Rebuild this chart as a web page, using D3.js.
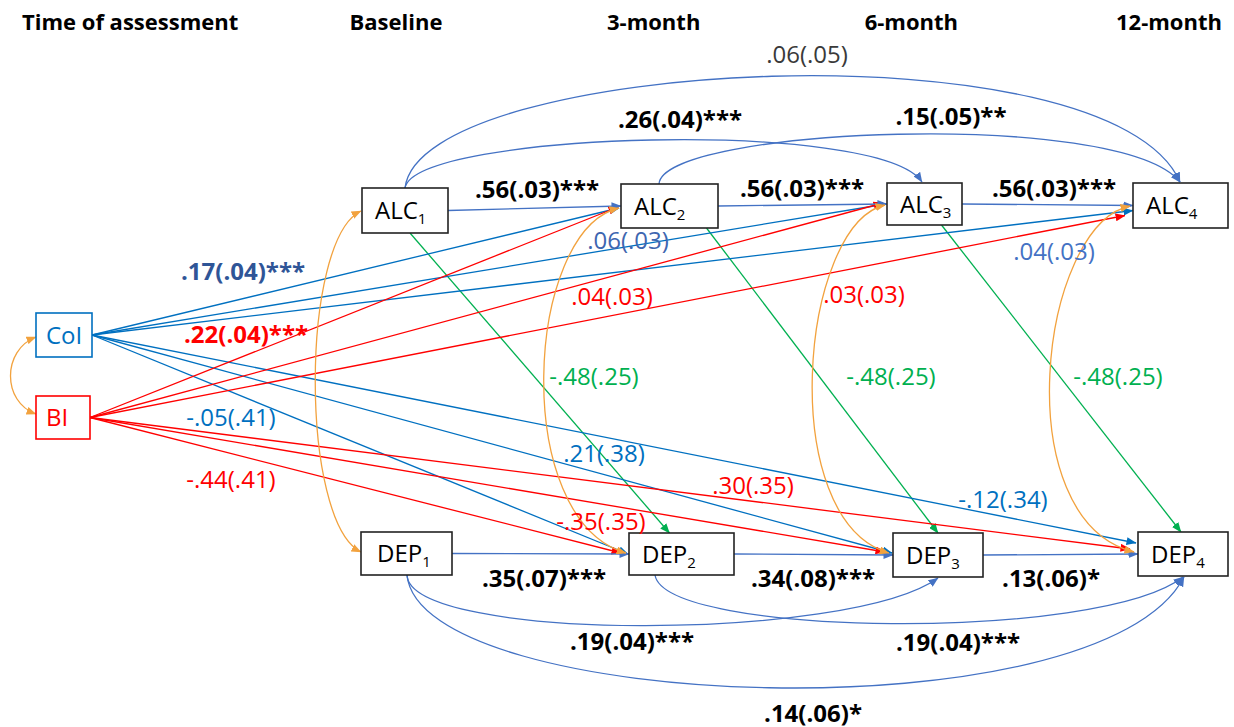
<!DOCTYPE html>
<html><head><meta charset="utf-8">
<script src="https://cdn.jsdelivr.net/npm/d3@7"></script>
<style>body{margin:0;background:#fff}svg{display:block}</style>
</head><body><svg id="c" width="1234" height="727"></svg>
<script>
// ================= DATA =================
const headerTitle = "Time of assessment";
const timepoints = ["Baseline", "3-month", "6-month", "12-month"];
const constructs = ["ALC", "DEP"];
const covariates = ["CoI", "BI"];

// [from, to, estimate, standard error, significance]
const lag1Paths = [
  ["ALC1", "ALC2", 0.56, 0.03, "***"],
  ["ALC2", "ALC3", 0.56, 0.03, "***"],
  ["ALC3", "ALC4", 0.56, 0.03, "***"],
  ["DEP1", "DEP2", 0.35, 0.07, "***"],
  ["DEP2", "DEP3", 0.34, 0.08, "***"],
  ["DEP3", "DEP4", 0.13, 0.06, "*"]
];
const lag2Paths = [
  ["ALC1", "ALC3", 0.26, 0.04, "***"],
  ["ALC2", "ALC4", 0.15, 0.05, "**"],
  ["DEP1", "DEP3", 0.19, 0.04, "***"],
  ["DEP2", "DEP4", 0.19, 0.04, "***"]
];
const lag3Paths = [
  ["ALC1", "ALC4", 0.06, 0.05, ""],
  ["DEP1", "DEP4", 0.14, 0.06, "*"]
];
const crossPaths = [
  ["ALC1", "DEP2", -0.48, 0.25, ""],
  ["ALC2", "DEP3", -0.48, 0.25, ""],
  ["ALC3", "DEP4", -0.48, 0.25, ""]
];
const coiPaths = [
  ["CoI", "ALC2", 0.17, 0.04, "***"],
  ["CoI", "ALC3", 0.06, 0.03, ""],
  ["CoI", "ALC4", 0.04, 0.03, ""],
  ["CoI", "DEP2", -0.05, 0.41, ""],
  ["CoI", "DEP3", 0.21, 0.38, ""],
  ["CoI", "DEP4", -0.12, 0.34, ""]
];
const biPaths = [
  ["BI", "ALC2", 0.22, 0.04, "***"],
  ["BI", "ALC3", 0.04, 0.03, ""],
  ["BI", "ALC4", 0.03, 0.03, ""],
  ["BI", "DEP2", -0.44, 0.41, ""],
  ["BI", "DEP3", -0.35, 0.35, ""],
  ["BI", "DEP4", 0.30, 0.35, ""]
];
const covariances = [["CoI", "BI"], ["ALC1", "DEP1"], ["ALC2", "DEP2"], ["ALC3", "DEP3"], ["ALC4", "DEP4"]];

// ================= LAYOUT / STYLE =================
const W = 1234, H = 727;
const FONT = "'Open Sans', Lato, sans-serif";
const C = {
  ar: "#4472C4", coi: "#0070C0", bi: "#FF0000", cross: "#00B050", cov: "#F2A23E",
  black: "#000000", gray: "#3a3a3a", coiBold: "#2F5597", coiMid: "#3E66B0", coiLight: "#4472C4"
};
const xHead = d3.scalePoint().domain(timepoints).range([396, 1169]);
const boxes = {
  CoI: [36, 313, 92, 357], BI: [36, 396, 90, 439],
  ALC1: [362, 188, 448, 233], ALC2: [621, 184, 718, 228], ALC3: [887, 183, 962, 225], ALC4: [1133, 183, 1228, 228],
  DEP1: [361, 532, 452, 575], DEP2: [629, 533, 734, 575], DEP3: [893, 533, 983, 577], DEP4: [1138, 532, 1228, 576]
};
const textInset = { CoI: 10, BI: 10, DEP1: 16 };
// port: [side, offset along side from center, extra dx, extra dy]
const ports = {
  "CoI-ALC2": [["r", 0], ["l", 2, -2, 0]], "CoI-ALC3": [["r", 0], ["l", 0, -1, 0]], "CoI-ALC4": [["r", 0], ["l", 5, 0, 0]],
  "CoI-DEP2": [["r", 0], ["l", 0, -1, 0]], "CoI-DEP3": [["r", 0], ["l", -2, -1, 0]], "CoI-DEP4": [["r", 0], ["l", -11, -2, 0]],
  "BI-ALC2": [["r", 0], ["l", 1, -3, 0]], "BI-ALC3": [["r", 0], ["l", -1, -4, 0]], "BI-ALC4": [["r", 0], ["l", 10, -8, 0]],
  "BI-DEP2": [["r", 0], ["l", -1, -8, 0]], "BI-DEP3": [["r", 0], ["l", -3, -8, 0]], "BI-DEP4": [["r", 0], ["l", -5, -8, 0]],
  "ALC1-DEP2": [["b", 5], ["t", -12]], "ALC2-DEP3": [["b", 37], ["t", 0]], "ALC3-DEP4": [["b", 17], ["t", -2]]
};
// curve control points
const curves = {
  "ALC1-ALC3": [[405, 188], [415, 132], [880, 118], [922, 182]],
  "ALC2-ALC4": [[659, 184], [662, 128], [1120, 108], [1180, 182]],
  "ALC1-ALC4": [[405, 188], [420, 58], [1110, 22], [1180, 182]],
  "DEP1-DEP3": [[407, 575], [410, 642], [850, 642], [938, 578]],
  "DEP2-DEP4": [[655, 575], [665, 637], [1100, 642], [1183, 577]],
  "DEP1-DEP4": [[407, 575], [420, 712], [1100, 738], [1184, 577]],
  "CoI-BI": [[36, 337], [2, 350], [2, 402], [36, 414]],
  "ALC1-DEP1": [[361, 211], [300, 240], [300, 522], [361, 552]],
  "ALC2-DEP2": [[619, 208], [525, 230], [510, 520], [626, 553]],
  "ALC3-DEP3": [[885, 205], [800, 225], [775, 520], [889, 553]],
  "ALC4-DEP4": [[1130, 206], [1040, 225], [1005, 520], [1134, 552]]
};
// label centers
const labelPos = {
  "ALC1-ALC2": [537, 188], "ALC2-ALC3": [802, 187], "ALC3-ALC4": [1054, 187],
  "DEP1-DEP2": [544, 577], "DEP2-DEP3": [813, 577], "DEP3-DEP4": [1051, 577],
  "ALC1-ALC3": [680, 118], "ALC2-ALC4": [951, 115], "DEP1-DEP3": [632, 640], "DEP2-DEP4": [958, 641],
  "ALC1-ALC4": [807, 53], "DEP1-DEP4": [813, 712],
  "ALC1-DEP2": [594, 375], "ALC2-DEP3": [891, 375], "ALC3-DEP4": [1118, 375],
  "CoI-ALC2": [243, 270], "CoI-ALC3": [628, 239], "CoI-ALC4": [1054, 250],
  "CoI-DEP2": [231, 416], "CoI-DEP3": [604, 452], "CoI-DEP4": [1003, 498],
  "BI-ALC2": [246, 333], "BI-ALC3": [612, 295], "BI-ALC4": [864, 293],
  "BI-DEP2": [231, 478], "BI-DEP3": [601, 520], "BI-DEP4": [753, 484]
};
const labelColor = {
  "CoI-ALC2": C.coiBold, "CoI-ALC3": C.coiMid, "CoI-ALC4": C.coiLight,
  "CoI-DEP2": C.coi, "CoI-DEP3": C.coi, "CoI-DEP4": C.coi, "ALC1-ALC4": C.gray
};

// ================= DRAW =================
const svg = d3.select("#c");
svg.append("rect").attr("width", W).attr("height", H).attr("fill", "#fff");
const defs = svg.append("defs");
Object.entries(C).forEach(([k, col]) => {
  defs.append("marker").attr("id", "m-" + k).attr("markerUnits", "userSpaceOnUse")
    .attr("viewBox", "0 0 10 8").attr("markerWidth", 10).attr("markerHeight", 8)
    .attr("refX", 9.5).attr("refY", 4).attr("orient", "auto-start-reverse")
    .append("path").attr("d", "M0,0 L10,4 L0,8 Z").attr("fill", col);
});

const id = p => p[0] + "-" + p[1];
const fmtNum = v => (v < 0 ? "-" : "") + Math.abs(v).toFixed(2).replace(/^0/, "");
const fmt = p => fmtNum(p[2]) + "(" + fmtNum(p[3]) + ")" + p[4];

function port(node, spec) {
  const [x0, y0, x1, y1] = boxes[node];
  const cx = (x0 + x1) / 2, cy = (y0 + y1) / 2;
  const [side, off, dx = 0, dy = 0] = spec;
  let p;
  if (side === "l") p = [x0, cy + off];
  else if (side === "r") p = [x1, cy + off];
  else if (side === "t") p = [cx + off, y0];
  else p = [cx + off, y1];
  return [p[0] + dx, p[1] + dy];
}

const gLines = svg.append("g").attr("fill", "none").attr("stroke-width", 1.3);

function straight(paths, color, key, defaultPorts) {
  paths.forEach(p => {
    const pr = ports[id(p)] || defaultPorts;
    const a = port(p[0], pr[0]), b = port(p[1], pr[1]);
    const path = d3.path(); path.moveTo(a[0], a[1]); path.lineTo(b[0], b[1]);
    gLines.append("path").attr("d", path.toString()).attr("stroke", color)
      .attr("marker-end", `url(#m-${key})`);
  });
}
function curved(list, color, key, both) {
  list.forEach(p => {
    const c = curves[id(p)];
    const path = d3.path(); path.moveTo(c[0][0], c[0][1]);
    path.bezierCurveTo(c[1][0], c[1][1], c[2][0], c[2][1], c[3][0], c[3][1]);
    const el = gLines.append("path").attr("d", path.toString()).attr("stroke", color)
      .attr("marker-end", `url(#m-${key})`);
    if (both) el.attr("marker-start", `url(#m-${key})`);
  });
}

curved(lag3Paths, C.ar, "ar");
curved(lag2Paths, C.ar, "ar");
straight(crossPaths, C.cross, "cross");
straight(coiPaths, C.coi, "coi");
straight(biPaths, C.bi, "bi");
straight(lag1Paths, C.ar, "ar", [["r", 0], ["l", 0]]);
curved(covariances, C.cov, "cov", true);

// boxes
const nodeIds = covariates.concat(...constructs.map(c => timepoints.map((t, i) => c + (i + 1))));
const gNodes = svg.append("g");
nodeIds.forEach(n => {
  const [x0, y0, x1, y1] = boxes[n];
  const col = n === "CoI" ? C.coi : n === "BI" ? C.bi : "#222";
  gNodes.append("rect").attr("x", x0).attr("y", y0).attr("width", x1 - x0).attr("height", y1 - y0)
    .attr("fill", "#fff").attr("stroke", col).attr("stroke-width", 1.6);
  const t = gNodes.append("text").attr("x", x0 + (textInset[n] || 13)).attr("y", (y0 + y1) / 2 + 8.5)
    .attr("font-family", FONT).attr("font-size", 24).attr("fill", n === "CoI" ? C.coi : n === "BI" ? C.bi : "#000");
  const m = n.match(/^([A-Za-z]+)(\d*)$/);
  t.append("tspan").text(m[1]);
  if (m[2]) t.append("tspan").attr("font-size", 15).attr("dy", 5).text(m[2]);
});

// labels
const gLab = svg.append("g").attr("font-family", FONT).attr("text-anchor", "middle").attr("dominant-baseline", "central");
function labels(paths, color, boldIfSig) {
  paths.forEach(p => {
    const k = id(p), pos = labelPos[k];
    const bold = boldIfSig && p[4] !== "";
    gLab.append("text").attr("x", pos[0]).attr("y", pos[1])
      .attr("font-size", bold ? 24 : 24).attr("font-weight", bold ? 700 : 400)
      .attr("fill", labelColor[k] || color).text(fmt(p));
  });
}
labels(lag1Paths, C.black, true);
labels(lag2Paths, C.black, true);
labels(lag3Paths, C.black, true);
labels(crossPaths, C.cross, true);
labels(coiPaths, C.coi, true);
labels(biPaths, C.bi, true);

// headers
const gHead = svg.append("g").attr("font-family", FONT).attr("font-weight", 700).attr("font-size", 22).attr("fill", "#000");
gHead.append("text").attr("x", 22).attr("y", 30).text(headerTitle);
timepoints.forEach(t => gHead.append("text").attr("x", xHead(t)).attr("y", 30).attr("text-anchor", "middle").text(t));
</script>
</body></html>
